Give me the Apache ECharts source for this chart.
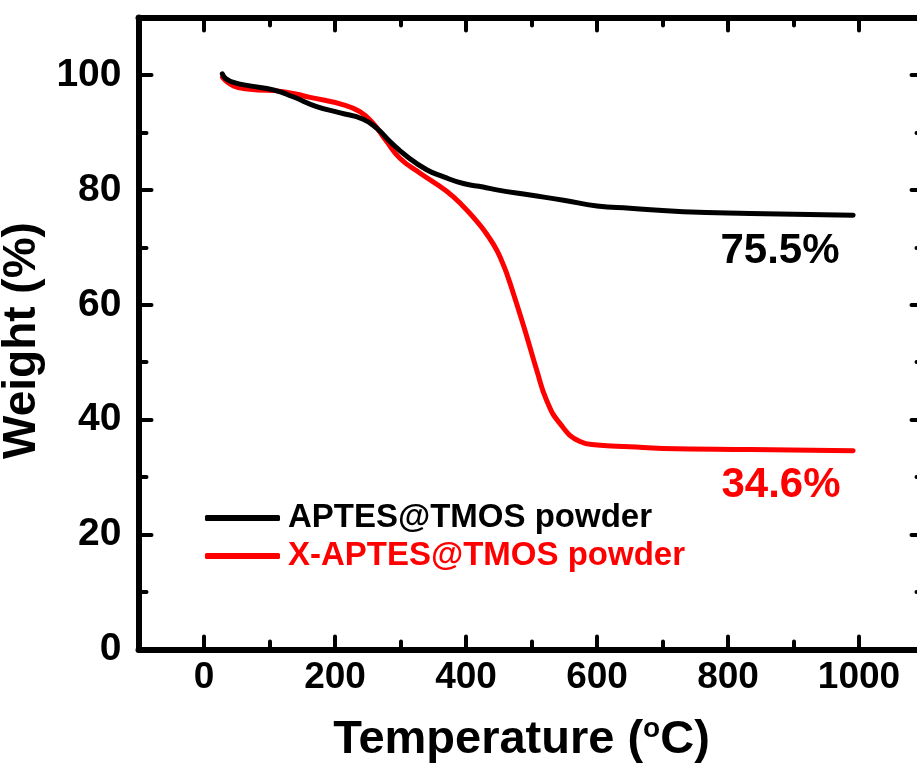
<!DOCTYPE html>
<html>
<head>
<meta charset="utf-8">
<script src="https://cdn.jsdelivr.net/npm/echarts@6/dist/echarts.min.js"></script>
<style>
html,body{margin:0;padding:0;background:#fff;}
#chart{width:917px;height:764px;}
</style>
</head>
<body>
<div id="chart"></div>
<script>
// ---- data ----
const blackName = 'APTES@TMOS powder';
const redName = 'X-APTES@TMOS powder';
const blackTemp = [28, 33, 45, 70, 106, 136, 172, 208, 243, 264, 284, 310, 340, 365, 396, 426, 447, 498, 549, 600, 650, 732, 834, 991];
const blackWeight = [100.2, 99.4, 98.7, 98.1, 97.4, 96.2, 94.5, 93.4, 92.3, 90.7, 88.4, 85.8, 83.5, 82.3, 81.1, 80.5, 80.0, 79.1, 78.2, 77.2, 76.8, 76.2, 75.9, 75.6];
const redTemp = [28, 45, 70, 121, 162, 213, 238, 258, 279, 299, 330, 370, 396, 421, 434, 447, 455, 462, 477, 493, 508, 523, 543, 574, 600, 650, 700, 834, 991];
const redWeight = [99.6, 98.1, 97.5, 97.1, 96.1, 94.8, 93.6, 91.6, 88.4, 85.5, 82.9, 79.8, 77.1, 73.9, 71.9, 69.5, 67.5, 65.5, 60.3, 54.4, 48.6, 43.4, 39.4, 36.2, 35.6, 35.3, 35.0, 34.8, 34.6];
const xMajorTicks = [0, 200, 400, 600, 800, 1000];
const xMinorTicks = [100, 300, 500, 700, 900];
const yMajorTicks = [0, 20, 40, 60, 80, 100];
const yMinorTicks = [10, 30, 50, 70, 90];
const annotBlack = '75.5%';
const annotRed = '34.6%';

const FONT = "'Liberation Sans', Arial, Helvetica, sans-serif";

function zip(a, b) { return a.map((v, i) => [v, b[i]]); }

function xAxisDef(pos, major, withLine) {
  return {
    type: 'value', position: pos, min: -100, max: 1100,
    axisLine: { show: withLine, onZero: false, lineStyle: { color: '#000', width: 6 } },
    axisTick: { show: true, inside: true, length: major ? 13 : 8, customValues: major ? xMajorTicks : xMinorTicks,
      lineStyle: { color: '#000', width: 4, cap: 'round' } },
    axisLabel: { show: major && pos === 'bottom', customValues: xMajorTicks, margin: 10,
      formatter: v => String(v),
      fontSize: 37, fontWeight: 'bold', color: '#000', fontFamily: FONT },
    splitLine: { show: false }
  };
}
function yAxisDef(pos, major, withLine) {
  return {
    type: 'value', position: pos, min: 0, max: 110,
    axisLine: { show: withLine, onZero: false, lineStyle: { color: '#000', width: 6 } },
    axisTick: { show: true, inside: true, length: major ? 13 : 8, customValues: major ? yMajorTicks : yMinorTicks,
      lineStyle: { color: '#000', width: 4, cap: 'round' } },
    axisLabel: { show: major && pos === 'left', customValues: yMajorTicks, margin: 17,
      formatter: v => String(v),
      fontSize: 39, fontWeight: 'bold', color: '#000', fontFamily: FONT },
    splitLine: { show: false }
  };
}

const xAxes = [xAxisDef('bottom', true, true), xAxisDef('top', true, true), xAxisDef('bottom', false, false), xAxisDef('top', false, false)];
xAxes[0].name = '{a|Temperature (}{s|o}{a|C)}';
xAxes[0].nameLocation = 'middle';
xAxes[0].nameGap = 66;
xAxes[0].nameTextStyle = {
  padding: [0, 20, 0, 0],
  rich: {
    a: { fontSize: 47, fontWeight: 'bold', fontFamily: FONT, color: '#000', lineHeight: 50 },
    s: { fontSize: 28, fontWeight: 'bold', fontFamily: FONT, color: '#000', lineHeight: 30, verticalAlign: 'top' }
  }
};
const yAxes = [yAxisDef('left', true, true), yAxisDef('right', true, true), yAxisDef('left', false, false), yAxisDef('right', false, false)];
yAxes[0].name = 'Weight (%)';
yAxes[0].nameLocation = 'middle';
yAxes[0].nameRotate = 90;
yAxes[0].nameGap = 70;
yAxes[0].nameTextStyle = { fontSize: 46, fontWeight: 'bold', fontFamily: FONT, color: '#000', padding: [0, 14, 0, 0] };

const chart = echarts.init(document.getElementById('chart'), null, { renderer: 'canvas' });
chart.setOption({
  animation: false,
  backgroundColor: '#fff',
  grid: { left: 138.5, top: 17.5, width: 786, height: 632, containLabel: false, outerBoundsMode: 'none' },
  xAxis: xAxes,
  yAxis: yAxes,
  legend: {
    orient: 'vertical', left: 205, top: 499, padding: 0, itemGap: 0,
    itemWidth: 75, itemHeight: 6, icon: 'roundRect',
    textStyle: { fontSize: 33, fontWeight: 'bold', fontFamily: FONT, lineHeight: 38, padding: [0, 0, 0, 3] },
    data: [
      { name: blackName, textStyle: { color: '#000000' } },
      { name: redName, textStyle: { color: '#ff0000' } }
    ]
  },
  series: [
    { name: blackName, type: 'line', xAxisIndex: 0, yAxisIndex: 0, data: zip(blackTemp, blackWeight),
      smooth: 0.5, showSymbol: false, lineStyle: { color: '#000000', width: 5, cap: 'round' }, itemStyle: { color: '#000000' }, z: 3 },
    { name: redName, type: 'line', xAxisIndex: 0, yAxisIndex: 0, data: zip(redTemp, redWeight),
      smooth: 0.5, showSymbol: false, lineStyle: { color: '#ff0000', width: 5, cap: 'round' }, itemStyle: { color: '#ff0000' }, z: 2 }
  ],
  graphic: [
    { type: 'text', x: 780, y: 251, style: { text: annotBlack, fill: '#000', fontSize: 42, fontWeight: 'bold', fontFamily: FONT, textAlign: 'center', textVerticalAlign: 'middle' } },
    { type: 'text', x: 781, y: 485, style: { text: annotRed, fill: '#ff0000', fontSize: 42, fontWeight: 'bold', fontFamily: FONT, textAlign: 'center', textVerticalAlign: 'middle' } }
  ]
});
</script>
</body>
</html>
